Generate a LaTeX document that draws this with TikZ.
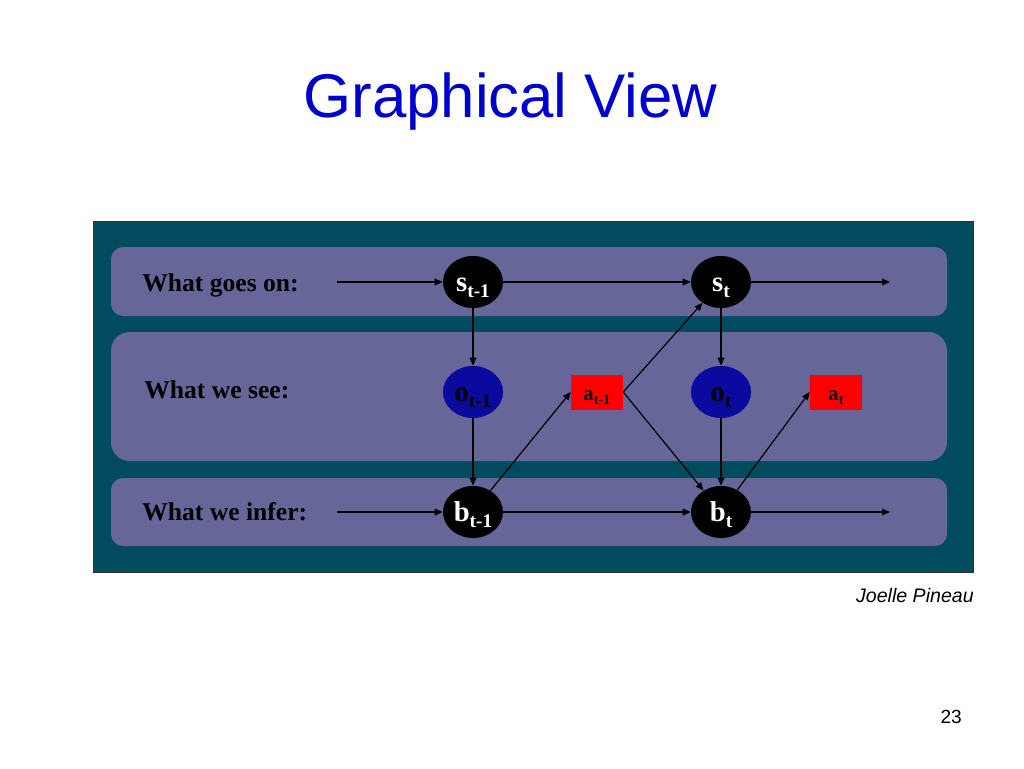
\documentclass[tikz,border=0pt]{standalone}
\usepackage{fontspec}
\setmainfont{Liberation Serif}
\newfontfamily\arialfont{Liberation Sans}
\usetikzlibrary{shapes.geometric,arrows.meta}
\definecolor{tealbg}{HTML}{004C5E}
\definecolor{lav}{HTML}{666699}
\definecolor{titleblue}{HTML}{0000CC}
\definecolor{nodeblue}{HTML}{0A0A9E}
\newcommand\nlab[2]{\raisebox{-7pt}[0pt][0pt]{\fontsize{21.5}{21.5}\selectfont\bfseries #1\raisebox{-4.5pt}{\fontsize{14.5}{14.5}\selectfont #2}}}
\newcommand\alab[2]{\raisebox{-6pt}[0pt][0pt]{\fontsize{15.5}{15.5}\selectfont\bfseries #1\raisebox{-3.5pt}{\fontsize{10.8}{10.8}\selectfont #2}}}
\tikzset{
 stnode/.style={ellipse, fill=black, minimum width=45pt, minimum height=39pt, inner sep=0pt, text=white},
 obnode/.style={ellipse, fill=nodeblue, minimum width=45pt, minimum height=39pt, inner sep=0pt, text=black},
 actnode/.style={rectangle, fill=red, minimum width=39pt, minimum height=26.25pt, inner sep=0pt, text=black},
 rowlabel/.style={anchor=base west, inner sep=0pt, font=\fontsize{19.2}{20}\selectfont\bfseries},
 arr/.style={-{Triangle[length=6pt,width=5pt]}, line width=0.9pt}
}
\begin{document}
\begin{tikzpicture}[x=0.75pt,y=-0.75pt]
\fill[white] (0,0) rectangle (1024,768);
\useasboundingbox (0,0) rectangle (1024,768);
\node[font=\arialfont\fontsize{46.3}{50}\selectfont, text=titleblue, anchor=base, inner sep=0pt] (title) at (510.5,117) {Graphical View};
\filldraw[fill=tealbg, draw=black!80, line width=0.6pt] (93,221) rectangle (973,572);
\fill[lav, rounded corners=9pt] (111,247) rectangle (947,316);
\fill[lav, rounded corners=14pt] (111,332) rectangle (947,461);
\fill[lav, rounded corners=9pt] (111,478) rectangle (947,546);
\node[rowlabel] (l1) at (142,291) {What goes on:};
\node[rowlabel] (l2) at (144,398) {What we see:};
\node[rowlabel] (l3) at (142,520) {What we infer:};
\node[stnode] (st1) at (473,282) {\nlab{s}{t-1}};
\node[stnode] (st) at (721,282) {\nlab{s}{t}};
\node[obnode] (ot1) at (473,392) {\nlab{o}{t-1}};
\node[obnode] (ot) at (721,392) {\nlab{o}{t}};
\node[stnode] (bt1) at (473,512) {\nlab{b}{t-1}};
\node[stnode] (bt) at (721,512) {\nlab{b}{t}};
\node[actnode] (at1) at (597,392) {\alab{a}{t-1}};
\node[actnode] (at) at (836,392) {\alab{a}{t}};
\coordinate (in1) at (337,282);
\coordinate (out1) at (890,282);
\coordinate (in3) at (337,512);
\coordinate (out3) at (890,512);
\draw[arr] (in1) -- (st1);
\draw[arr] (st1) -- (st);
\draw[arr] (st) -- (out1);
\draw[arr] (st1) -- (ot1);
\draw[arr] (ot1) -- (bt1);
\draw[arr] (in3) -- (bt1);
\draw[arr] (bt1) -- (bt);
\draw[arr] (bt) -- (out3);
\draw[arr] (bt1) -- (at1.west);
\draw[arr] (at1.east) -- (st);
\draw[arr] (at1.east) -- (bt);
\draw[arr] (st) -- (ot);
\draw[arr] (ot) -- (bt);
\draw[arr] (bt) -- (at.west);
\node[font=\arialfont\itshape\fontsize{14.7}{16}\selectfont, anchor=base east, inner sep=0pt] (author) at (974,602) {Joelle Pineau};
\node[font=\arialfont\fontsize{14.3}{16}\selectfont, anchor=base east, inner sep=0pt] (pnum) at (962,723) {23};
\end{tikzpicture}
\end{document}
